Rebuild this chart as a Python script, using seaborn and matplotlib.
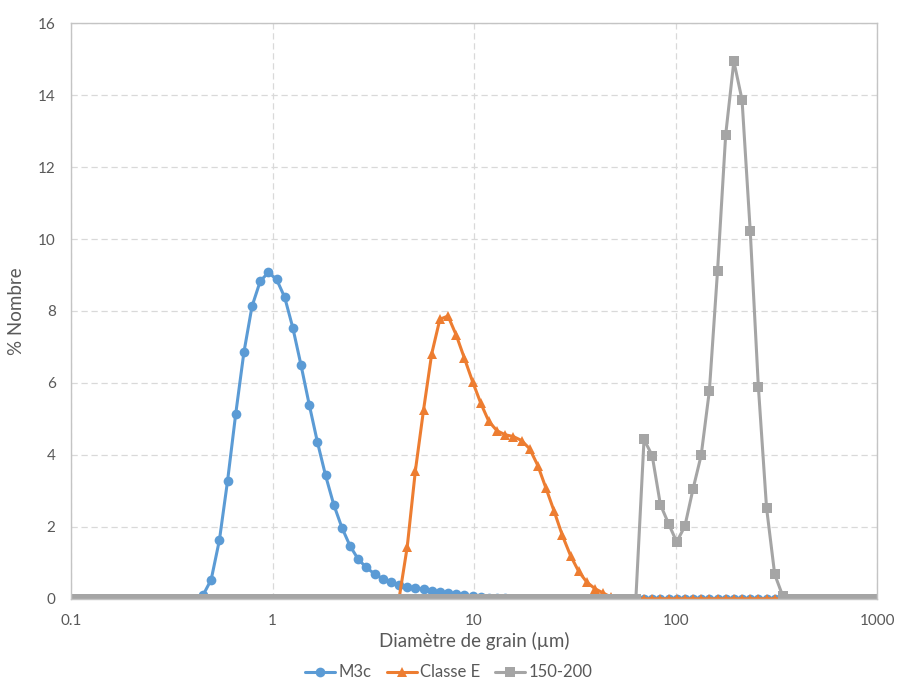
import numpy as np
import pandas as pd
import matplotlib
matplotlib.use("Agg")
import matplotlib.pyplot as plt
import seaborn as sns

# Diamètres des canaux (µm), granulomètre laser
diametre = [0.102, 0.112, 0.122, 0.134, 0.148, 0.162, 0.178, 0.195, 0.214, 0.235,
            0.258, 0.284, 0.311, 0.342, 0.375, 0.412, 0.452, 0.496, 0.545, 0.598,
            0.657, 0.721, 0.791, 0.869, 0.953, 1.047, 1.149, 1.261, 1.385, 1.520,
            1.669, 1.832, 2.011, 2.208, 2.423, 2.660, 2.920, 3.206, 3.519, 3.863,
            4.241, 4.656, 5.111, 5.611, 6.159, 6.761, 7.422, 8.148, 8.944, 9.819,
            10.78, 11.83, 12.99, 14.26, 15.65, 17.18, 18.86, 20.71, 22.73, 24.95,
            27.39, 30.07, 33.01, 36.24, 39.78, 43.67, 47.94, 52.62, 57.77, 63.41,
            69.61, 76.42, 83.89, 92.09, 101.1, 111.0, 121.8, 133.7, 146.8, 161.2,
            176.9, 194.2, 213.2, 234.1, 256.9, 282.1, 309.6, 339.9, 373.1, 409.6,
            449.7, 493.6, 541.9, 594.9, 653.0, 716.9, 786.9, 863.9, 948.3]

# partie non nulle de chaque courbe (premier diamètre, valeurs en %)
m3c_debut = 0.452
m3c = [0.10, 0.53, 1.63, 3.27, 5.15, 6.85, 8.13, 8.83, 9.07, 8.88, 8.38, 7.53,
       6.49, 5.40, 4.36, 3.43, 2.62, 1.98, 1.47, 1.10, 0.87, 0.69, 0.56, 0.46,
       0.37, 0.33, 0.30, 0.27, 0.23, 0.20, 0.17, 0.14, 0.11, 0.08, 0.05, 0.03,
       0.02, 0.01]

classe_e_debut = 4.241
classe_e = [0.0, 1.44, 3.56, 5.25, 6.81, 7.77, 7.86, 7.33, 6.69, 6.04, 5.44,
            4.93, 4.67, 4.56, 4.51, 4.40, 4.17, 3.70, 3.07, 2.43, 1.76, 1.20,
            0.76, 0.46, 0.28, 0.16, 0.04]

s150_debut = 63.41
s150 = [0.0, 4.43, 3.98, 2.62, 2.09, 1.58, 2.02, 3.05, 3.99, 5.78, 9.12, 12.9,
        14.94, 13.87, 10.23, 5.90, 2.53, 0.68, 0.07]

series = ["M3c", "Classe E", "150-200"]
couleurs = ["#5B9BD5", "#ED7D31", "#A5A5A5"]
marqueurs = ["o", "^", "s"]


def complete(debut, valeurs):
    # zéro partout ailleurs sur la grille des diamètres
    i = diametre.index(debut)
    y = [0.0] * len(diametre)
    y[i:i + len(valeurs)] = valeurs
    return y


df = pd.DataFrame({"d": diametre,
                   "M3c": complete(m3c_debut, m3c),
                   "Classe E": complete(classe_e_debut, classe_e),
                   "150-200": complete(s150_debut, s150)})

sns.set_theme(style="white")
plt.rcParams["font.family"] = ["Lato", "DejaVu Sans"]
gris_txt = "#595959"

fig = plt.figure(figsize=(8.98, 6.82), dpi=100)
ax = fig.add_axes([0.079, 0.122, 0.898, 0.844])

for nom, c, m in zip(series, couleurs, marqueurs):
    sns.lineplot(data=df, x="d", y=nom, ax=ax, color=c, marker=m,
                 markersize=7 if m != "^" else 7.5, markeredgewidth=0,
                 linewidth=2.2, label=nom, legend=False)

ax.set_xscale("log")
ax.set_xlim(0.1, 1000)
ax.set_ylim(0, 16)
ax.set_xticks([0.1, 1, 10, 100, 1000])
ax.set_xticklabels(["0.1", "1", "10", "100", "1000"])
ax.xaxis.set_minor_locator(matplotlib.ticker.NullLocator())
ax.set_yticks(range(0, 17, 2))

ax.grid(True, which="major", color="#D9D9D9", linestyle=(0, (5, 3)), linewidth=0.9)
ax.set_axisbelow(True)
for s in ["top", "right", "left", "bottom"]:
    ax.spines[s].set_visible(True)
    ax.spines[s].set_color("#C4C4C4")
    ax.spines[s].set_linewidth(1)

ax.tick_params(axis="both", length=0, labelsize=11, colors=gris_txt)
ax.tick_params(axis="x", pad=11)
ax.tick_params(axis="y", pad=11)
ax.set_xlabel("Diamètre de grain (µm)", fontsize=13.5, color=gris_txt, labelpad=3)
ax.set_ylabel("% Nombre", fontsize=13.5, color=gris_txt, labelpad=9)

h, l = ax.get_legend_handles_labels()
fig.legend(h, l, loc="center", bbox_to_anchor=(0.5, 0.014), ncol=3, frameon=False,
           fontsize=12, labelcolor=gris_txt, handlelength=1.8, columnspacing=0.9,
           handletextpad=0.2, borderpad=0)

fig.savefig("out.png", dpi=100)
